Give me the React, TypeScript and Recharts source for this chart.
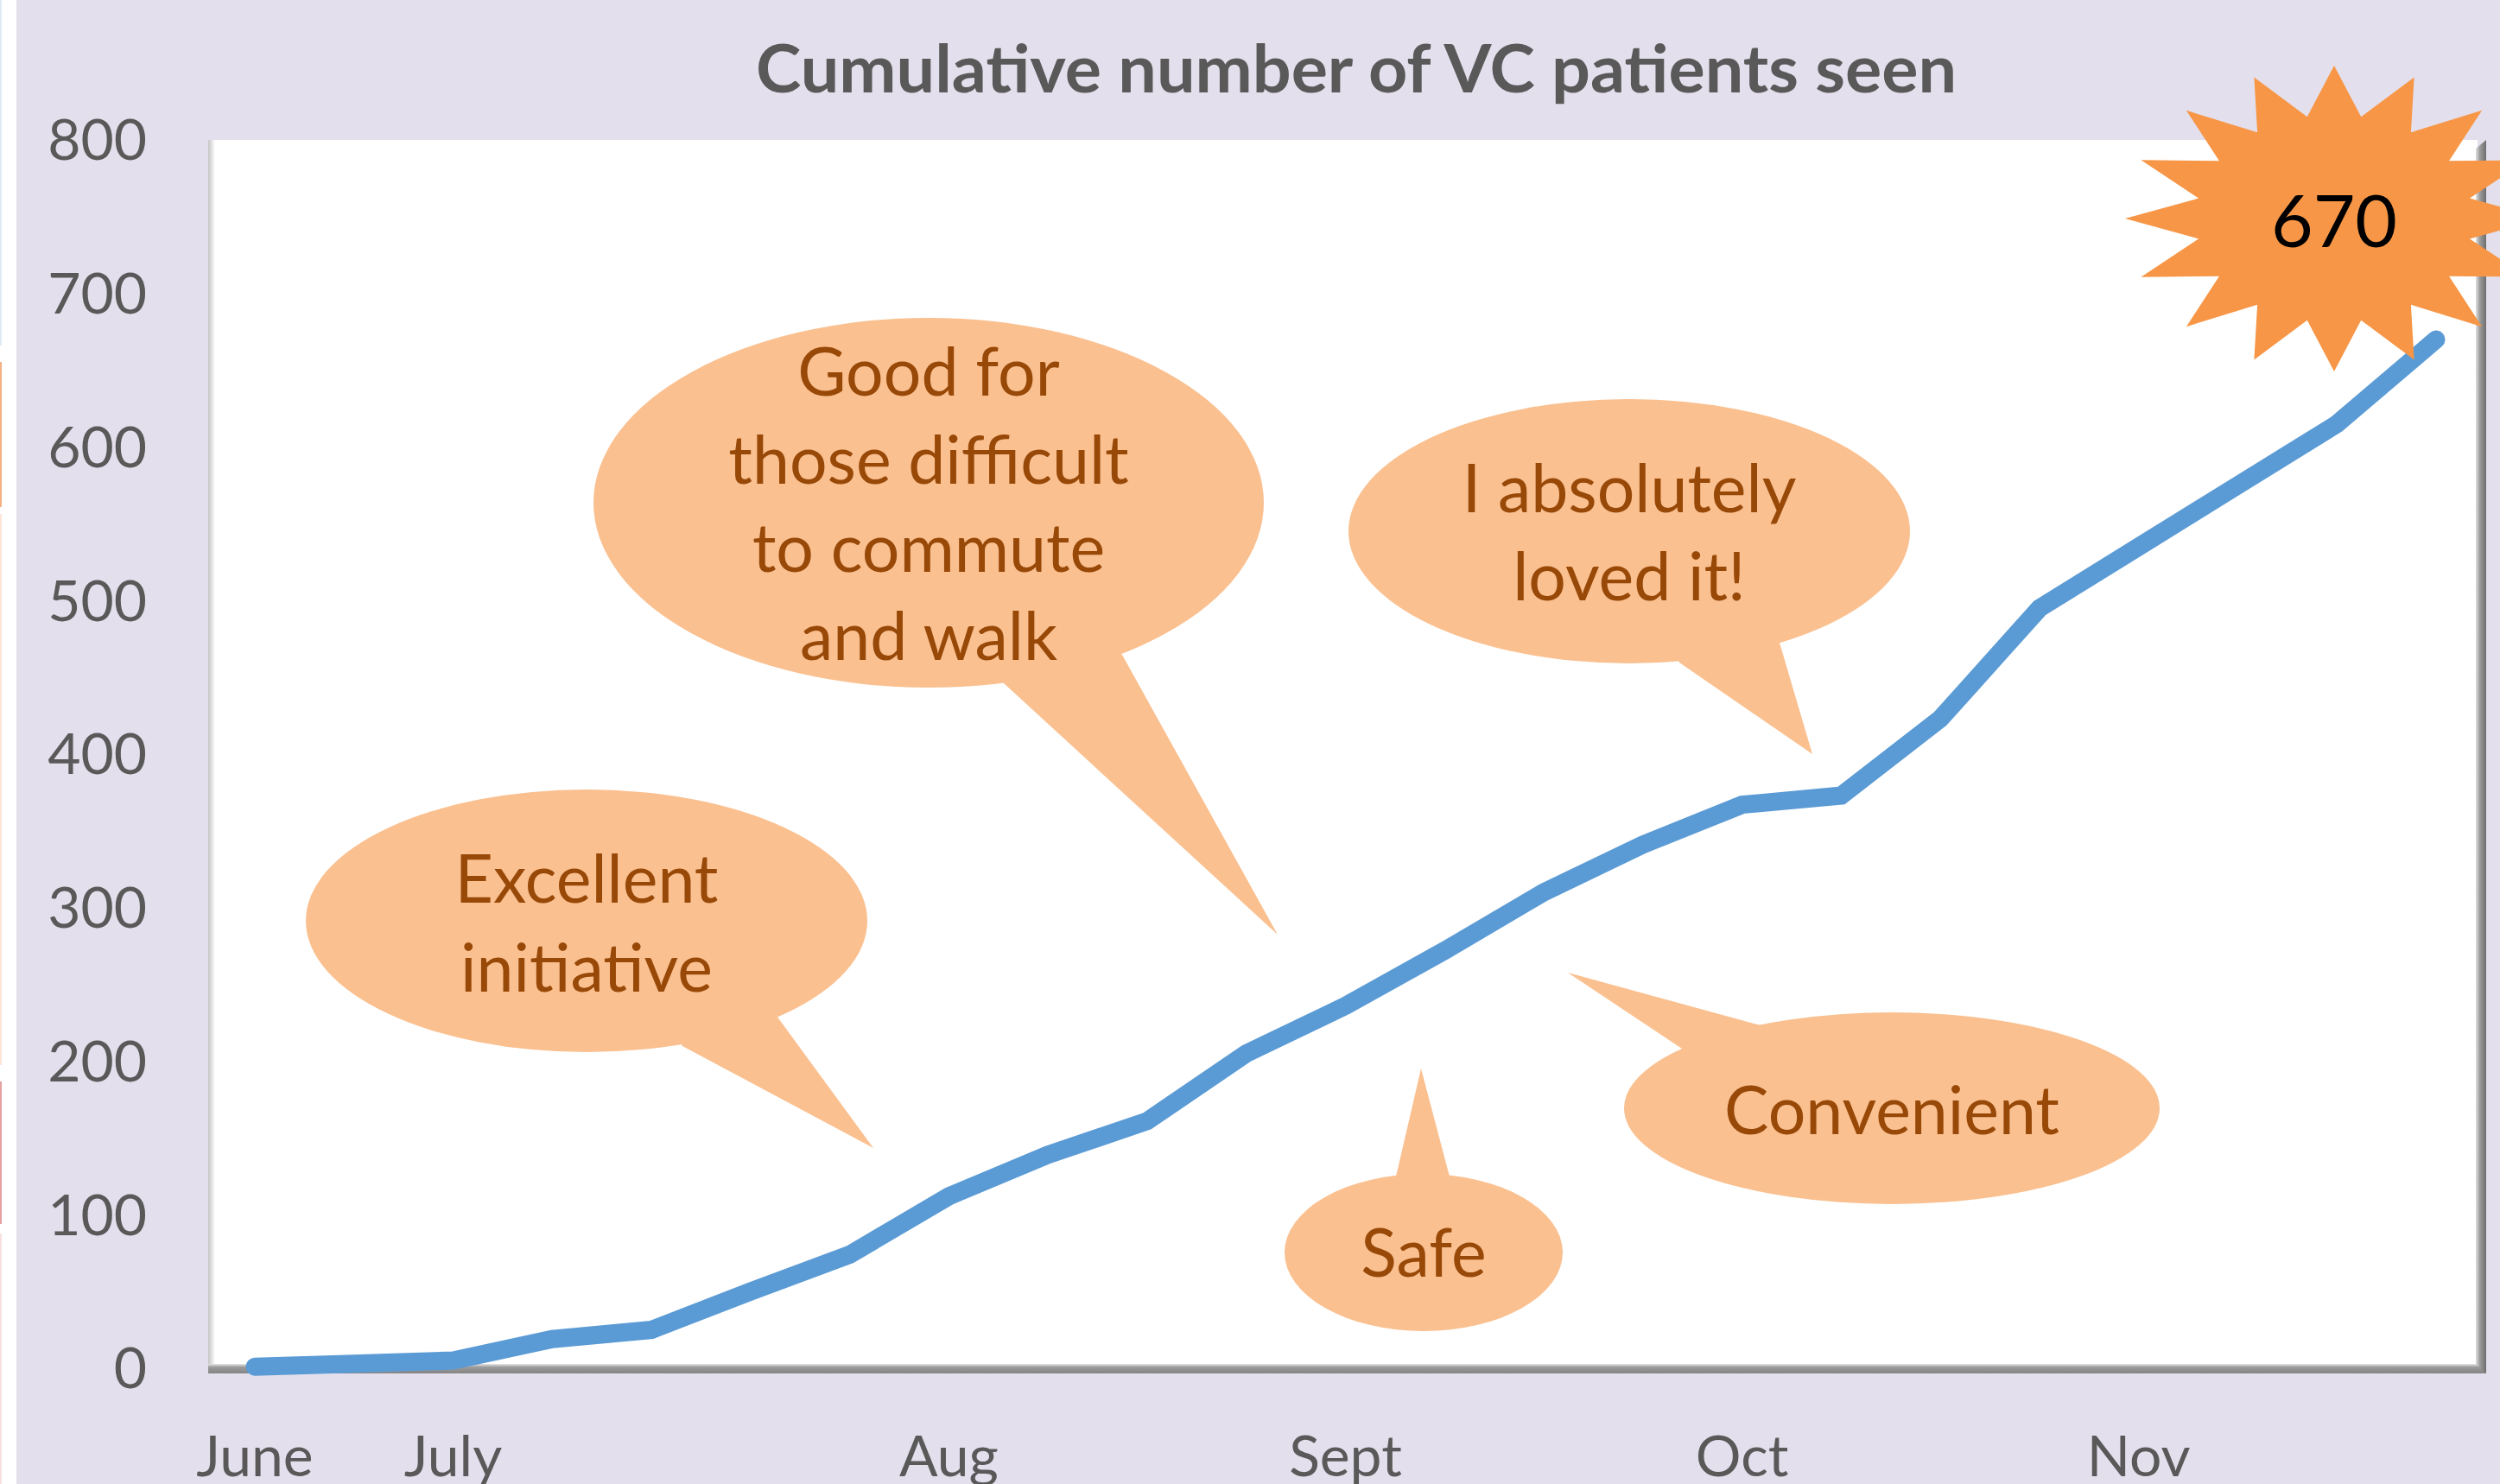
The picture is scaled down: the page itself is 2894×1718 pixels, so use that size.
import React from 'react';
import { LineChart, Line, XAxis, YAxis } from 'recharts';

// ---- data ----
const monthLabels = ['June', '', 'July', '', '', '', '', 'Aug', '', '', '', 'Sept', '', '', '', 'Oct', '', '', '', 'Nov', '', '', ''];
const patientsSeen = [1, 3, 5, 19, 25, 50, 74, 112, 139, 161, 205, 236, 272, 310, 341, 367, 373, 423, 495, 535, 575, 615, 670];
const yTicks = [0, 100, 200, 300, 400, 500, 600, 700, 800];
const chartTitle = 'Cumulative number of VC patients seen';
const totalLabel = '670';
const commentGood = ['Good for', 'those difficult', 'to commute', 'and walk'];
const commentLoved = ['I absolutely', 'loved it!'];
const commentExcellent = ['Excellent', 'initiative'];
const commentSafe = ['Safe'];
const commentConvenient = ['Convenient'];

const data = patientsSeen.map((v, i) => ({ idx: i, patients: v }));

const W = 2894;
const H = 1718;
const PL = 242, PT = 162, PR = 2868, PB = 1584;
const FONT = 'Lato, "Open Sans", sans-serif';
const BUBBLE_FILL = '#FAC090';
const BUBBLE_TEXT = '#984807';

type BubbleProps = {
  cx: number; cy: number; rx: number; ry: number;
  tail: [number, number][]; lines: string[]; baselines: number[]; fontSize: number;
};

function Bubble({ cx, cy, rx, ry, tail, lines, baselines, fontSize }: BubbleProps) {
  const pts = [...tail, [cx, cy]].map(p => p.join(',')).join(' ');
  return (
    <g>
      <polygon points={pts} fill={BUBBLE_FILL} />
      <ellipse cx={cx} cy={cy} rx={rx} ry={ry} fill={BUBBLE_FILL} />
      {lines.map((l, i) => (
        <text key={i} x={cx} y={baselines[i]} textAnchor="middle" fontFamily={FONT} fontSize={fontSize} fill={BUBBLE_TEXT}>{l}</text>
      ))}
    </g>
  );
}

function starPoints(cx: number, cy: number, rxo: number, ryo: number, rxi: number, ryi: number, n: number) {
  const pts: string[] = [];
  for (let k = 0; k < n; k++) {
    const ao = (90 + k * (360 / n)) * Math.PI / 180;
    const ai = (90 + (k + 0.5) * (360 / n)) * Math.PI / 180;
    pts.push(`${cx + rxo * Math.cos(ao)},${cy - ryo * Math.sin(ao)}`);
    pts.push(`${cx + rxi * Math.cos(ai)},${cy - ryi * Math.sin(ai)}`);
  }
  return pts.join(' ');
}

const XTick = (props: any) => {
  const { x, y, payload } = props;
  const label = monthLabels[payload.value];
  if (!label) return null;
  return (
    <text x={x} y={y} dy="0.71em" textAnchor="middle" fontFamily={FONT} fontSize={66} fill="#595959">{label}</text>
  );
};

export default function App() {
  return (
    <div style={{ position: 'absolute', left: 0, top: 0, width: W, height: H, overflow: 'hidden', background: '#fff' }}>
      {/* background layer */}
      <svg width={W} height={H} style={{ position: 'absolute', left: 0, top: 0 }}>
        <defs>
          <linearGradient id="bottomBevel" x1="0" y1="0" x2="0" y2="1">
            <stop offset="0" stopColor="#e6e6e6" />
            <stop offset="0.35" stopColor="#9a9a9a" />
            <stop offset="1" stopColor="#858585" />
          </linearGradient>
          <linearGradient id="rightBevel" x1="0" y1="0" x2="1" y2="0">
            <stop offset="0" stopColor="#e0e0e0" />
            <stop offset="0.4" stopColor="#9a9a9a" />
            <stop offset="1" stopColor="#6e6e6e" />
          </linearGradient>
          <linearGradient id="leftBevel" x1="0" y1="0" x2="1" y2="0">
            <stop offset="0" stopColor="#c4c4c4" />
            <stop offset="1" stopColor="#ffffff" />
          </linearGradient>
        </defs>
        <rect x={0} y={0} width={W} height={H} fill="#ffffff" />
        <rect x={19} y={0} width={W - 19} height={H} fill="#E4DFEC" />
        <rect x={0} y={0} width={2} height={400} fill="#DDEBF7" />
        <rect x={0} y={419} width={2} height={168} fill="#F4B183" />
        <rect x={0} y={595} width={2} height={638} fill="#FCE4D6" />
        <rect x={0} y={1252} width={2} height={165} fill="#E6A0A0" />
        <rect x={0} y={1428} width={2} height={290} fill="#F8E0E0" />
        <rect x={PL} y={PT} width={PR - PL} height={PB - PT} fill="#ffffff" />
        <rect x={PL - 1} y={PT} width={8} height={PB - PT} fill="url(#leftBevel)" />
        <polygon points={`${PL - 1},${PB - 5} ${PR + 10},${PB - 5} ${PR + 10},${PB + 6} ${PL - 1},${PB + 6}`} fill="url(#bottomBevel)" />
        <polygon points={`${PR - 2},${PT + 10} ${PR + 10},${PT} ${PR + 10},${PB + 6} ${PR - 2},${PB - 5}`} fill="url(#rightBevel)" />
      </svg>

      {/* chart layer */}
      <div style={{ position: 'absolute', left: 0, top: 0 }}>
        <LineChart width={W} height={H} data={data} margin={{ top: PT, right: W - PR, bottom: 0, left: 0 }}>
          <XAxis
            dataKey="idx"
            type="category"
            interval={0}
            height={H - PB}
            axisLine={false}
            tickLine={false}
            tickSize={0}
            tickMargin={78}
            padding={{ left: 53, right: 48 }}
            tick={<XTick />}
          />
          <YAxis
            type="number"
            domain={[0, 800]}
            ticks={yTicks}
            width={PL}
            axisLine={false}
            tickLine={false}
            tickSize={0}
            tickMargin={72}
            tick={{ fontSize: 66, fill: '#595959', fontFamily: FONT }}
          />
          <Line
            type="linear"
            dataKey="patients"
            stroke="#5B9BD5"
            strokeWidth={21}
            strokeLinecap="round"
            dot={false}
            activeDot={false}
            isAnimationActive={false}
          />
        </LineChart>
      </div>

      {/* annotation layer */}
      <svg width={W} height={H} style={{ position: 'absolute', left: 0, top: 0, pointerEvents: 'none' }}>
        <text x={1570} y={107} textAnchor="middle" fontFamily={FONT} fontWeight={700} fontSize={77} fill="#595959" textLength={1390} lengthAdjust="spacingAndGlyphs">{chartTitle}</text>

        <Bubble cx={1075} cy={582} rx={388} ry={214}
          tail={[[1162, 791], [1479, 1082], [1299, 758]]}
          lines={commentGood} baselines={[458, 560, 662, 764]} fontSize={77} />
        <Bubble cx={1886} cy={615} rx={325} ry={153}
          tail={[[1944, 767], [2098, 873], [2060, 744]]}
          lines={commentLoved} baselines={[593, 695]} fontSize={77} />
        <Bubble cx={679} cy={1066} rx={325} ry={152}
          tail={[[790, 1211], [1011, 1329], [899, 1176]]}
          lines={commentExcellent} baselines={[1045, 1148]} fontSize={77} />
        <Bubble cx={1648} cy={1450} rx={161} ry={91}
          tail={[[1616, 1362], [1645, 1237], [1678, 1362]]}
          lines={commentSafe} baselines={[1478]} fontSize={77} />
        <Bubble cx={2190} cy={1283} rx={310} ry={111}
          tail={[[1947, 1214], [1815, 1126], [2038, 1187]]}
          lines={commentConvenient} baselines={[1313]} fontSize={77} />

        <polygon points={starPoints(2702, 253, 242, 177, 160, 120, 16)} fill="#F79646" />
        <text x={2702} y={286} textAnchor="middle" fontFamily={FONT} fontSize={84} fill="#000000">{totalLabel}</text>
      </svg>
    </div>
  );
}
